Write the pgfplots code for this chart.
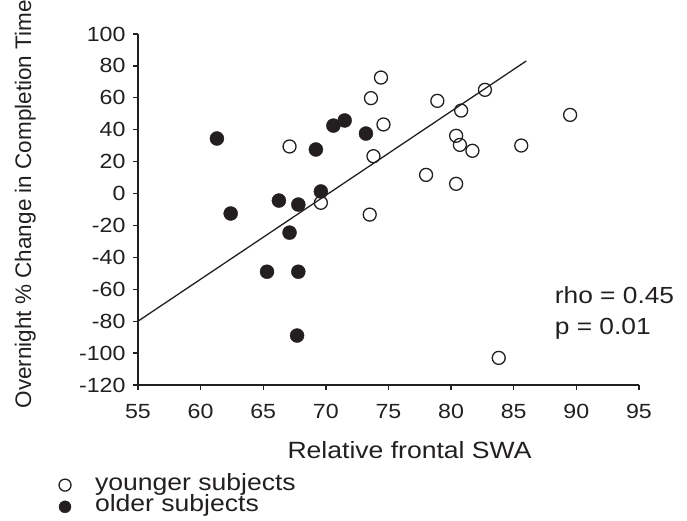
\documentclass[border=0pt]{standalone}
\usepackage{pgfplots}
\pgfplotsset{compat=1.18}
\usepackage{fontspec}
\setmainfont{Liberation Sans}[FakeStretch=1.13]
\newfontfamily\ylabfont{Liberation Sans}
\definecolor{ink}{RGB}{35,31,32}

\begin{document}
\begin{tikzpicture}
\begin{axis}[
  scale only axis,
  width=501bp, height=351bp,
  xmin=55, xmax=95, ymin=-120, ymax=100,
  xtick={55,60,...,95},
  ytick={-120,-100,...,100},
  axis lines=left,
  axis line style={-, line width=1.3bp, ink},
  tick style={line width=1.3bp, ink},
  tick align=outside,
  major tick length=5bp,
  clip=false,
  /pgf/number format/assume math mode=true,
  ticklabel style={font=\fontsize{20.5bp}{22bp}\selectfont, text=ink},
  yticklabel style={xshift=-4bp},
  xticklabel style={yshift=-11bp},
  xlabel={Relative frontal SWA},
  xlabel style={font=\fontsize{23.5bp}{26bp}\selectfont, text=ink,
    at={(axis description cs:0.542,-0.208)}, anchor=base},
  ylabel={Overnight \% Change in Completion Time},
  ylabel style={font=\ylabfont\fontsize{22.5bp}{25bp}\selectfont, text=ink,
    at={(axis description cs:-0.225,0.515)}, anchor=center},
  legend style={at={(axis description cs:-0.158,-0.259)}, anchor=north west,
    draw=none, fill=none, inner sep=0pt, row sep=3.7bp, column sep=24bp,
    nodes={inner sep=0pt, text height=14bp, text depth=4bp},
    font=\fontsize{23.5bp}{25bp}\selectfont, text=ink},
  legend cell align=left,
  legend image code/.code={\draw[#1, mark size=6bp] plot coordinates {(0bp,0bp)};},
]
  % younger subjects
  \addplot[only marks, mark=o, mark size=6.5bp, line width=1.3bp, ink] coordinates {
    (74.4, 72.7) (73.6, 59.8) (74.6, 43.3) (73.8, 23.4) (73.5, -13.2)
    (69.6, -5.8) (78.9, 58.1) (78.0, 11.7) (80.4, 6.1) (80.8, 52.0)
    (80.4, 36.2) (80.7, 30.5) (81.7, 26.8) (82.7, 65.0) (85.6, 30.1)
    (89.5, 49.3) (67.1, 29.5) (83.8, -103.0)
  };
  \addlegendentry{younger subjects}

  % older subjects
  \addplot[only marks, mark=*, mark size=7bp, ink, mark options={draw=ink, fill=ink}] coordinates {
    (61.3, 34.5) (62.4, -12.5) (66.25, -4.4) (67.8, -6.9) (67.1, -24.5)
    (69.6, 1.3) (69.2, 27.6) (70.6, 42.6) (71.5, 45.8) (73.2, 37.6)
    (65.3, -49.0) (67.8, -49.0) (67.7, -89.0)
  };
  \addlegendentry{older subjects}

  % regression line
  \addplot[line width=1.3bp, ink, forget plot] coordinates {(55, -80) (86, 83.1)};

  \node[anchor=base west, font=\fontsize{23.3bp}{25bp}\selectfont, text=ink] at (axis cs:88.0,-69.2) {rho = 0.45};
  \node[anchor=base west, font=\fontsize{23.3bp}{25bp}\selectfont, text=ink] at (axis cs:88.0,-88.4) {p = 0.01};

  \coordinate (O) at (rel axis cs:0,0);
\end{axis}
\pgfresetboundingbox
\path[use as bounding box] ([shift={(-138bp,-136bp)}]O) rectangle ++(687bp,521bp);
\end{tikzpicture}
\end{document}
